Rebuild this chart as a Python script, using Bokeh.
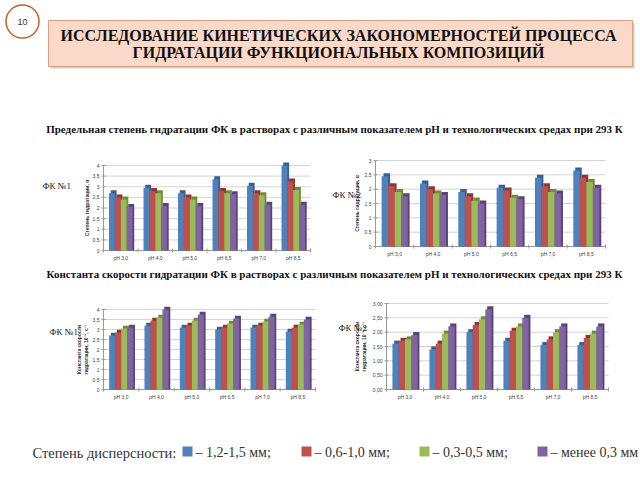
import math
from bokeh.plotting import figure
from bokeh.models import Range1d, ColumnDataSource
from bokeh.transform import dodge
from bokeh.core.properties import value
from bokeh.embed import file_html
from bokeh.resources import INLINE

# ---------------- data ----------------
ph_labels = ["pH 3,0", "pH 4,0", "pH 5,0", "pH 6,5", "pH 7,0", "pH 8,5"]
series_names = ["1,2-1,5 мм", "0,6-1,0 мм", "0,3-0,5 мм", "менее 0,3 мм"]
series_colors = ["#4f81bd", "#c0504d", "#9bbb59", "#8064a2"]
side_colors = ["#35608f", "#8e3533", "#6f8c3a", "#5a4379"]

# Предельная степень гидратации, ФК №1
deg1_a = [2.70, 2.95, 2.70, 3.35, 3.05, 4.00]
deg1_b = [2.50, 2.80, 2.50, 2.80, 2.70, 3.25]
deg1_c = [2.40, 2.70, 2.40, 2.70, 2.60, 2.85]
deg1_d = [2.05, 2.10, 2.10, 2.65, 2.15, 2.15]
# Предельная степень гидратации, ФК №2
deg2_a = [2.45, 2.20, 1.90, 2.05, 2.40, 2.65]
deg2_b = [2.10, 2.00, 1.75, 1.95, 2.10, 2.40]
deg2_c = [1.90, 1.85, 1.60, 1.70, 1.90, 2.25]
deg2_d = [1.75, 1.80, 1.50, 1.65, 1.85, 2.05]
# Константа скорости гидратации, ФК №1
k1_a = [2.70, 3.20, 3.10, 3.00, 3.10, 2.90]
k1_b = [2.85, 3.45, 3.20, 3.10, 3.20, 3.10]
k1_c = [3.05, 3.60, 3.45, 3.30, 3.40, 3.25]
k1_d = [3.10, 4.00, 3.75, 3.55, 3.65, 3.50]
# Константа скорости гидратации, ФК №2
k2_a = [1.60, 1.40, 2.00, 1.70, 1.55, 1.55]
k2_b = [1.70, 1.60, 2.25, 2.05, 1.75, 1.80]
k2_c = [1.75, 1.95, 2.45, 2.20, 2.00, 1.95]
k2_d = [1.90, 2.20, 2.80, 2.50, 2.20, 2.20]

ticks_4 = [0, 0.5, 1, 1.5, 2, 2.5, 3, 3.5, 4]
labels_4 = ["0", "0,5", "1", "1,5", "2", "2,5", "3", "3,5", "4"]
ticks_3 = [0, 0.5, 1, 1.5, 2, 2.5, 3]
labels_3 = ["0", "0,5", "1", "1,5", "2", "2,5", "3"]
labels_3b = ["0,00", "0,50", "1,00", "1,50", "2,00", "2,50", "3,00"]

title_lines = ["ИССЛЕДОВАНИЕ КИНЕТИЧЕСКИХ ЗАКОНОМЕРНОСТЕЙ ПРОЦЕССА",
               "ГИДРАТАЦИИ ФУНКЦИОНАЛЬНЫХ КОМПОЗИЦИЙ"]
subtitle1 = "Предельная степень гидратации ФК в растворах с различным показателем pH и технологических средах при 293 К"
subtitle2 = "Константа скорости гидратации ФК в растворах с различным показателем pH и технологических средах при 293 К"
ytitle_deg = "Степень гидратации, α"
ytitle_k = "Константа скорости\nгидратации, 10⁻³, с⁻¹"
legend_head = "Степень дисперсности:"

SERIF = value("Liberation Serif")
SANS = value("Liberation Sans")
offsets = [-0.255, -0.085, 0.085, 0.255]

# ---------------- page ----------------
p = figure(width=640, height=480, x_range=Range1d(0, 640), y_range=Range1d(480, 0),
           output_backend="svg", toolbar_location=None, min_border=0,
           x_axis_type=None, y_axis_type=None)
p.grid.visible = False
p.outline_line_color = None

# header
p.quad(left=[50], right=[634], top=[22], bottom=[68], fill_color="#cfcfcf", line_color=None)
p.quad(left=[48], right=[632], top=[20], bottom=[66], fill_color="#fad9c8",
       line_color="#d8a085", line_width=1)
p.scatter(x=[22], y=[21], size=33, marker="circle", fill_color="white",
          line_color="#c0652a", line_width=1.5)
p.text(x=[22], y=[21], text=["10"], text_font=SANS, text_font_size="9px",
       text_align="center", text_baseline="middle", text_color="#333333")
p.text(x=[338, 338], y=[35, 52], text=title_lines, text_font=SERIF, text_font_style="bold",
       text_font_size="16px", text_align="center", text_baseline="middle", text_color="#111111")
p.text(x=[334, 334], y=[128, 273], text=[subtitle1, subtitle2], text_font=SERIF,
       text_font_style="bold", text_font_size="11px", text_align="center",
       text_baseline="middle", text_color="#111111")


def bar_chart(series, ymax, ticks, tlabels, ytitle, frame, title_off):
    x0, x1, ybot, ytop = frame
    n = len(ph_labels)
    sub = p.subplot(x_source=Range1d(0, n), y_source=Range1d(0, ymax),
                    x_target=Range1d(x0, x1), y_target=Range1d(ybot, ytop))
    # grid and axes
    sub.segment(x0=[0] * len(ticks), x1=[n] * len(ticks), y0=ticks, y1=ticks,
                line_color="#d4d4d4", line_width=1)
    sub.segment(x0=[0, 0], y0=[0, 0], x1=[0, n], y1=[ymax, 0], line_color="#9a9a9a", line_width=1)
    sub.scatter(x=[0] * len(ticks), y=ticks, marker="dash", size=4, line_color="#9a9a9a")
    sub.scatter(x=list(range(n + 1)), y=[0] * (n + 1), marker="dash", angle=math.pi / 2,
                size=4, line_color="#9a9a9a")
    sub.text(x=[0] * len(ticks), y=ticks, text=tlabels, x_offset=-4, text_align="right",
             text_baseline="middle", text_font=SANS, text_font_size="5px", text_color="#404040")
    xi = [i + 0.5 for i in range(n)]
    sub.text(x=xi, y=[0] * n, text=ph_labels, y_offset=4, text_align="center",
             text_baseline="top", text_font=SANS, text_font_size="5px", text_color="#404040")
    sub.text(x=[0], y=[ymax / 2], text=[ytitle], x_offset=-title_off, angle=math.pi / 2,
             text_align="center", text_baseline="middle", text_font=SANS,
             text_font_style="bold", text_font_size="5px", text_color="#303030",
             text_line_height=1.1)
    # bars (with a darker side for the 3-D look)
    data = {"xi": xi}
    for i, s in enumerate(series):
        data[f"s{i}"] = s
        data[f"t{i}"] = [v + ymax * 0.035 for v in s]
    src = ColumnDataSource(data)
    for i in range(4):
        sub.vbar(x=dodge("xi", offsets[i] + 0.05), top=f"t{i}", width=0.17,
                 source=src, fill_color=side_colors[i], line_color=None)
    for i in range(4):
        sub.vbar(x=dodge("xi", offsets[i]), top=f"s{i}", width=0.17,
                 source=src, fill_color=series_colors[i], line_color=None)


bar_chart([deg1_a, deg1_b, deg1_c, deg1_d], 4, ticks_4, labels_4, ytitle_deg,
          (103, 310, 250, 165), 17)
bar_chart([deg2_a, deg2_b, deg2_c, deg2_d], 3, ticks_3, labels_3, ytitle_deg,
          (375, 605, 246, 160), 19)
bar_chart([k1_a, k1_b, k1_c, k1_d], 4, ticks_4, labels_4, ytitle_k,
          (103, 315, 389, 309), 21)
bar_chart([k2_a, k2_b, k2_c, k2_d], 3, ticks_3, labels_3b, ytitle_k,
          (386, 608, 389, 303), 26)

# chart captions
fk_text = ["ФК №1", "ФК №2", "ФК №1", "ФК №2"]
p.text(x=[42, 332, 49, 338], y=[185, 194, 331, 327], text=fk_text, text_font=SERIF,
       text_font_size="9px", text_color="#222222", text_baseline="middle")

# legend
sq_x = [187, 306, 424, 542]
tx_x = [195, 314, 432, 550]
p.text(x=[32], y=[452], text=[legend_head], text_font=SERIF, text_font_size="14.5px",
       text_baseline="middle", text_color="#333333")
p.scatter(x=sq_x, y=[451] * 4, marker="square", size=10, fill_color=series_colors,
          line_color=None)
leg_txt = ["– " + nm + (";" if i < 3 else "") for i, nm in enumerate(series_names)]
p.text(x=tx_x, y=[452] * 4, text=leg_txt, text_font=SERIF, text_font_size="14px",
       text_baseline="middle", text_color="#333333")

open("out.html", "w").write(file_html(p, INLINE))
